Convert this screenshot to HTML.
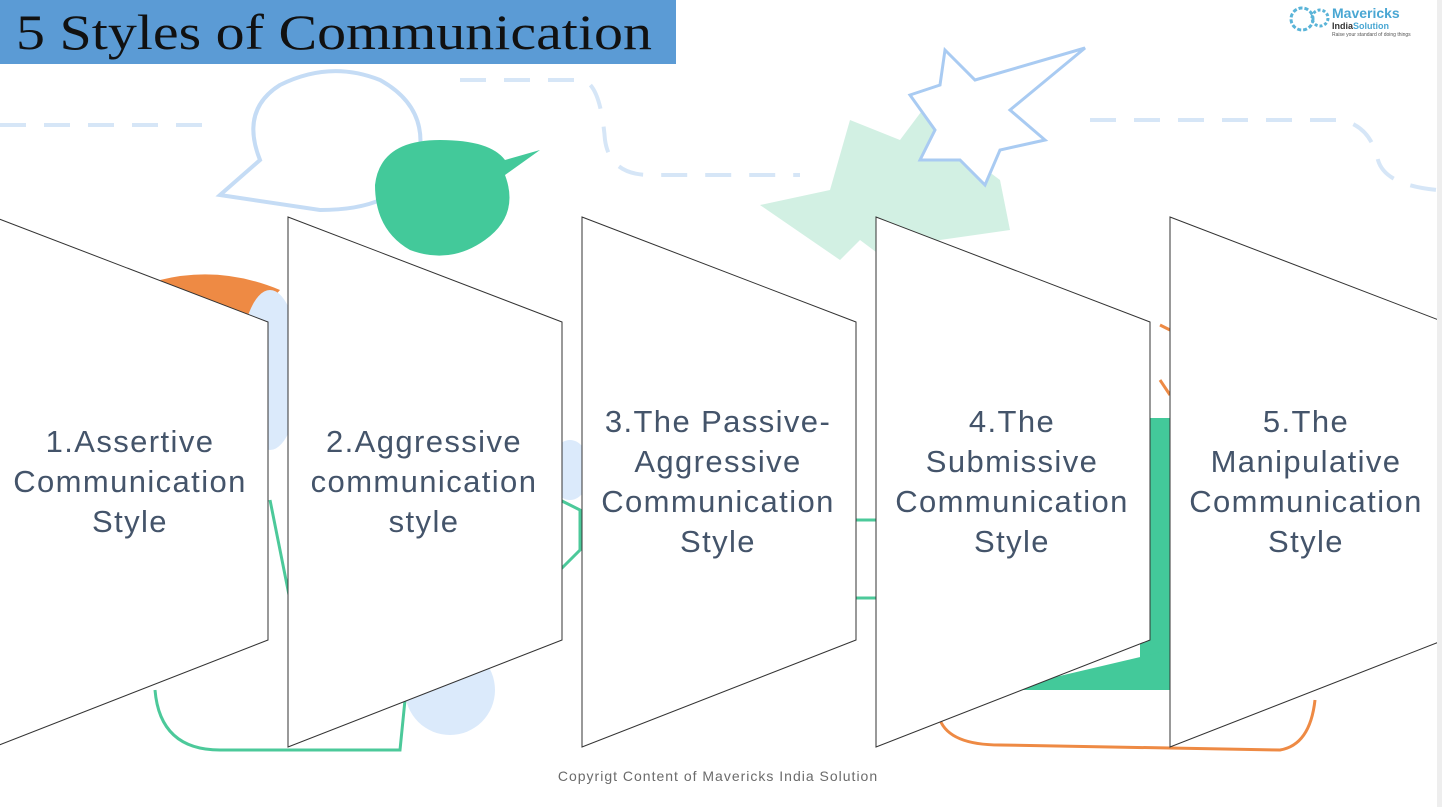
<!DOCTYPE html>
<html><head><meta charset="utf-8"><style>
html,body{margin:0;padding:0;background:#fff;}
#root{position:relative;width:1442px;height:807px;overflow:hidden;background:#fff;font-family:"Liberation Sans",sans-serif;}
svg{position:absolute;left:0;top:0;}
</style></head><body>
<div id="root">
<svg width="1442" height="807" viewBox="0 0 1442 807">
 <g fill="none">
  <rect x="1437" y="0" width="5" height="807" fill="#eeeeee"/>
  <path d="M0 125 H210 M460 80 H580 Q600 80 605 140 Q610 175 650 175 H800 M1090 120 H1340 Q1370 125 1378 160 Q1385 185 1437 190" stroke="#d6e6f7" stroke-width="4" stroke-dasharray="26 18"/>
  <path d="M760 205 L830 190 L850 120 L900 140 L930 100 L960 150 L1000 180 L1010 230 L940 240 L900 270 L860 240 L840 260 Z" fill="#d2f0e3"/>
  <path d="M910 95 L940 85 L945 50 L975 80 L1085 48 L1010 110 L1045 140 L1000 150 L985 185 L960 160 L920 160 L935 130 Z" fill="#ffffff" stroke="#a9cbf2" stroke-width="3"/>
  <path d="M220 195 L260 160 Q240 110 280 85 Q330 60 380 80 Q425 105 420 150 Q410 210 320 210 Z" fill="#fff" stroke="#c5dcf5" stroke-width="4"/>
  <path d="M375 185 Q380 140 440 140 Q490 140 505 160 L540 150 L505 175 Q520 215 485 240 Q450 265 410 250 Q375 230 375 185 Z" fill="#43c99a"/>
  <path d="M160 280 Q220 265 280 290 L245 330 Z" fill="#ee8a44"/>
  <ellipse cx="270" cy="370" rx="30" ry="80" fill="#dbeafb"/>
  <ellipse cx="570" cy="470" rx="20" ry="30" fill="#dbeafb"/>
  <ellipse cx="450" cy="690" rx="45" ry="45" fill="#dbeafb"/>
  <path d="M270 500 L290 600 M155 690 Q160 750 220 750 L400 750 L405 700 M560 500 L580 510 L580 550 L560 570" stroke="#4cc99a" stroke-width="3"/>
  <path d="M855 520 H880 M855 598 H880" stroke="#4cc99a" stroke-width="3"/>
  <rect x="1140" y="418" width="35" height="270" fill="#43c99a"/>
  <path d="M1000 690 L1170 650 L1170 690 Z" fill="#43c99a"/>
  <path d="M940 720 Q950 745 1000 745 L1280 750 Q1310 745 1315 700 M1160 325 L1170 330 M1160 380 L1170 395" stroke="#ee8a44" stroke-width="3"/>
 </g>
 <g id="panels"></g>
 <rect x="1437" y="0" width="5" height="807" fill="#eeeeee"/>
 <rect x="0" y="0" width="676" height="64" fill="#5b9bd5"/>
 <text x="16" y="49" font-family="Liberation Serif, serif" font-size="50" textLength="636" lengthAdjust="spacingAndGlyphs" fill="#111">5 Styles of Communication</text>
 <g>
  <circle cx="1302" cy="19" r="11" fill="none" stroke="#5ab4d8" stroke-width="3" stroke-dasharray="4 2"/>
  <circle cx="1320" cy="18" r="8" fill="none" stroke="#5ab4d8" stroke-width="3" stroke-dasharray="3 2"/>
  <text x="1332" y="18" font-size="14" font-weight="bold" fill="#4aa7d3">Mavericks</text>
  <text x="1332" y="29" font-size="9" font-weight="bold" fill="#333">India<tspan fill="#4aa7d3">Solution</tspan></text>
  <text x="1332" y="36" font-size="5" fill="#555">Raise your standard of doing things</text>
 </g>
 <text x="718" y="781" text-anchor="middle" font-family="Liberation Sans, sans-serif" font-size="14" letter-spacing="1" fill="#6b6b6b">Copyrigt Content of Mavericks India Solution</text>
</svg>
</div>
<script>
const panelLabels = [
 ["1.Assertive","Communication","Style"],
 ["2.Aggressive","communication","style"],
 ["3.The Passive-","Aggressive","Communication","Style"],
 ["4.The","Submissive","Communication","Style"],
 ["5.The","Manipulative","Communication","Style"]
];
const NS="http://www.w3.org/2000/svg";
const g=document.getElementById('panels');
const L0=-6, STEP=294, W=274, TOP=217, BOT=747, RT=322, RB=640;
panelLabels.forEach((lines,i)=>{
  const x=L0+i*STEP;
  const p=document.createElementNS(NS,'polygon');
  p.setAttribute('points',`${x},${TOP} ${x+W},${RT} ${x+W},${RB} ${x},${BOT}`);
  p.setAttribute('fill','#fff');p.setAttribute('stroke','#333');p.setAttribute('stroke-width','1');
  
  
  g.appendChild(p);
  const t=document.createElementNS(NS,'text');
  t.setAttribute('text-anchor','middle');t.setAttribute('font-size','31');t.setAttribute('fill','#44546a');
  t.setAttribute('letter-spacing','1.4');
  t.setAttribute('font-family','Liberation Sans, sans-serif');
  
  
  const cx=x+136, cy=481, n=lines.length;
  lines.forEach((ln,j)=>{
    const s=document.createElementNS(NS,'tspan');
    s.setAttribute('x',cx);s.setAttribute('y',cy+(j-(n-1)/2)*40+11);
    s.textContent=ln;t.appendChild(s);
  });
  g.appendChild(t);
});
</script>
</body></html>
